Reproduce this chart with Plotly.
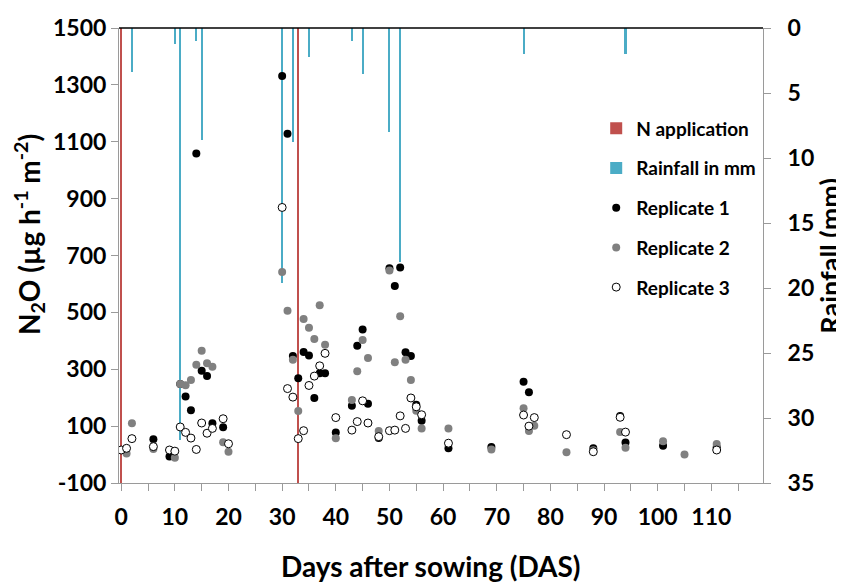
import plotly.graph_objects as go

# ---------------- data ----------------
rain_days = [2, 10, 11, 14, 15, 30, 32, 35, 43, 45, 50, 52, 75, 94]
rain_mm = [3.4, 1.2, 31.7, 1.0, 8.6, 19.6, 8.8, 2.2, 1.0, 3.5, 8.0, 18.0, 2.0, 2.0]

n_app_days = [0, 33]
n_app_mm = [35, 35]

rep1_days = [6, 9, 11, 12, 13, 14, 15, 16, 17, 19, 30, 31, 32, 33, 34, 35, 36, 37, 38, 40,
             43, 44, 45, 46, 48, 50, 51, 52, 53, 54, 55, 56, 61, 69, 75, 76, 88, 93, 94, 101, 111]
rep1_n2o = [54, -7, 248, 204, 156, 1059, 295, 276, 110, 96, 1331, 1128, 347, 268, 361, 348, 199, 286, 286, 78,
            172, 383, 440, 179, 58, 655, 593, 658, 360, 347, 175, 119, 22, 27, 256, 219, 22, 136, 42, 31, 26]

rep2_days = [1, 2, 6, 10, 11, 12, 13, 14, 15, 16, 17, 19, 20, 30, 31, 32, 33, 34, 35, 36, 37, 38, 40,
             43, 44, 45, 46, 48, 50, 51, 52, 53, 54, 55, 56, 61, 69, 75, 76, 77, 83, 88, 93, 94, 101, 105, 111]
rep2_n2o = [4, 110, 20, -11, 248, 244, 262, 316, 365, 321, 309, 43, 10, 642, 506, 333, 153, 477, 446, 406, 525, 386, 57,
            192, 293, 403, 340, 83, 647, 325, 486, 333, 262, 154, 92, 92, 18, 163, 83, 101, 8, 15, 79, 24, 47, 0, 37]

rep3_days = [0, 1, 2, 6, 9, 10, 11, 12, 13, 14, 15, 16, 17, 19, 20, 30, 31, 32, 33, 34, 35, 36, 37, 38, 40,
             43, 44, 45, 46, 48, 50, 51, 52, 53, 54, 55, 56, 61, 75, 76, 77, 83, 88, 93, 94, 111]
rep3_n2o = [16, 22, 56, 28, 16, 12, 97, 78, 58, 18, 111, 75, 92, 126, 38, 869, 232, 202, 56, 84, 243, 276, 312, 356, 130,
            86, 116, 189, 111, 63, 84, 86, 136, 92, 199, 168, 140, 40, 139, 100, 130, 70, 10, 131, 79, 16]

x_tick_vals = list(range(0, 121, 5))
x_tick_text = [str(v) if (v % 10 == 0 and v <= 110) else " " for v in x_tick_vals]
n2o_ticks = list(range(-100, 1501, 200))
n2o_tick_text = [str(v) for v in n2o_ticks]
rain_ticks = list(range(0, 36, 5))

# ---------------- styles ----------------
FONT = "Lato"
RED = "#C0504D"
TEAL = "#4BACC6"
AXIS = "#9a9a9a"

fig = go.Figure()

fig.add_trace(go.Bar(x=n_app_days, y=n_app_mm, width=0.45, marker=dict(color=RED, line=dict(width=0)),
                     name="N application", yaxis="y", legendgroup="a"))
fig.add_trace(go.Bar(x=rain_days, y=rain_mm, width=0.38, marker=dict(color=TEAL, line=dict(width=0)),
                     name="Rainfall in mm", yaxis="y", legendgroup="b"))
fig.add_trace(go.Scatter(x=rep1_days, y=rep1_n2o, mode="markers", name="Replicate 1", yaxis="y2",
                         marker=dict(size=8, color="black", line=dict(width=0)), legendgroup="c"))
fig.add_trace(go.Scatter(x=rep2_days, y=rep2_n2o, mode="markers", name="Replicate 2", yaxis="y2",
                         marker=dict(size=8, color="#808080", line=dict(width=0)), legendgroup="d"))
fig.add_trace(go.Scatter(x=rep3_days, y=rep3_n2o, mode="markers", name="Replicate 3", yaxis="y2",
                         marker=dict(size=8, color="white", line=dict(width=1, color="black")), legendgroup="e"))

tickfont = dict(family=FONT, size=23, color="black", weight="bold")

fig.update_layout(
    width=844, height=582,
    margin=dict(l=111, r=89, t=20, b=107),
    paper_bgcolor="white", plot_bgcolor="white",
    bargap=0, barmode="overlay",
    xaxis=dict(range=[-0.41, 119.63], tickvals=x_tick_vals, ticktext=x_tick_text, tickangle=0,
               showline=True, linecolor=AXIS, linewidth=1, ticks="outside", ticklen=7, tickcolor=AXIS,
               tickfont=tickfont, showgrid=False, zeroline=False, ticklabelstandoff=6, automargin=False),
    yaxis=dict(range=[35, 0], side="right", tickvals=rain_ticks, showline=True, linecolor=AXIS, linewidth=1,
               ticks="outside", ticklen=7, tickcolor=AXIS, tickfont=tickfont, showgrid=False, zeroline=False,
               ticklabelstandoff=12, automargin=False),
    yaxis2=dict(range=[-100, 1500], overlaying="y", side="left", tickvals=n2o_ticks, ticktext=n2o_tick_text,
                showline=True, linecolor=AXIS, linewidth=1, ticks="outside", ticklen=7, tickcolor=AXIS,
                tickfont=tickfont, showgrid=False, zeroline=False, automargin=False),
    legend=dict(x=0.741, y=0.821, xanchor="left", yanchor="top", bgcolor="rgba(0,0,0,0)",
                font=dict(family=FONT, size=19, color="black", weight="bold"),
                traceorder="grouped", tracegroupgap=12, itemwidth=30),
    showlegend=True,
)

fig.add_shape(type="line", xref="paper", yref="paper", x0=0, x1=1, y0=1, y1=1,
              line=dict(color="black", width=1.5))

fig.add_annotation(text="N<sub>2</sub>O (µg h<sup>-1</sup> m<sup>-2</sup>)", xref="paper", yref="paper",
                   x=-0.1398, y=0.547, xanchor="center", yanchor="middle", textangle=-90, showarrow=False,
                   font=dict(family=FONT, size=28, color="black", weight="bold"))
fig.add_annotation(text="Rainfall (mm)", xref="paper", yref="paper",
                   x=1.1027, y=0.50, xanchor="center", yanchor="middle", textangle=-90, showarrow=False,
                   font=dict(family=FONT, size=27, color="black", weight="bold"))
fig.add_annotation(text="Days after sowing (DAS)", xref="paper", yref="paper",
                   x=0.4845, y=-0.182, xanchor="center", yanchor="middle", showarrow=False,
                   font=dict(family=FONT, size=28, color="black", weight="bold"))

fig.write_html("out.html")
